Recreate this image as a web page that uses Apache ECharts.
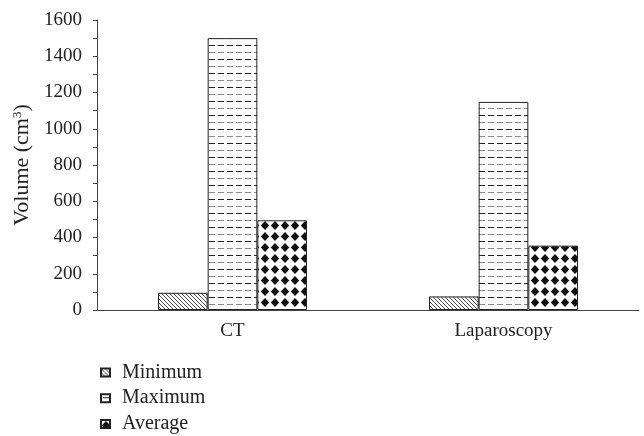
<!DOCTYPE html>
<html>
<head>
<meta charset="utf-8">
<script src="https://cdn.jsdelivr.net/npm/echarts@6/dist/echarts.min.js"></script>
<style>html,body{margin:0;padding:0;background:#fff;}#c{width:644px;height:436px;}</style>
</head>
<body>
<div id="c"></div>
<script>
const categories = ['CT', 'Laparoscopy'];
const seriesNames = ['Minimum', 'Maximum', 'Average'];
const minimumValues = [95, 75];
const maximumValues = [1500, 1148];
const averageValues = [495, 355];
const yTicks = [0, 200, 400, 600, 800, 1000, 1200, 1400, 1600];

function makeCanvas(w, h, draw) {
  const c = document.createElement('canvas');
  c.width = w; c.height = h;
  const ctx = c.getContext('2d');
  ctx.fillStyle = '#fff';
  ctx.fillRect(0, 0, w, h);
  draw(ctx);
  return c;
}
const hatch = makeCanvas(4, 4, ctx => {
  ctx.strokeStyle = '#333'; ctx.lineWidth = 0.9;
  ctx.beginPath();
  ctx.moveTo(-1, -1); ctx.lineTo(5, 5);
  ctx.moveTo(-1, 3); ctx.lineTo(1, 5);
  ctx.moveTo(3, -1); ctx.lineTo(5, 1);
  ctx.stroke();
});
const dashes = makeCanvas(9, 14, ctx => {
  ctx.fillStyle = '#222'; ctx.fillRect(2, 3, 6, 1);
  ctx.fillStyle = '#888'; ctx.fillRect(2, 10, 6, 1);
});
const diamonds = makeCanvas(10, 11, ctx => {
  ctx.fillStyle = '#111';
  ctx.beginPath();
  ctx.moveTo(5, 1); ctx.lineTo(9.2, 5.5); ctx.lineTo(5, 10); ctx.lineTo(0.8, 5.5);
  ctx.closePath(); ctx.fill();
});
const patterns = [hatch, dashes, diamonds];
const dataArrays = [minimumValues, maximumValues, averageValues];

const font = 'Liberation Serif';
const chart = echarts.init(document.getElementById('c'));
chart.setOption({
  animation: false,
  textStyle: { fontFamily: font },
  grid: { left: 97, right: 5, top: 20, bottom: 126, containLabel: false },
  legend: {
    orient: 'vertical', left: 100, top: 362.5, padding: 0,
    itemWidth: 9, itemHeight: 8, itemGap: 5.7,
    icon: 'rect',
    textStyle: { fontFamily: font, fontSize: 20, lineHeight: 20, color: '#222', padding: [0, 0, 0, 7] },
    data: seriesNames
  },
  xAxis: {
    type: 'category', data: categories,
    axisLine: { lineStyle: { color: '#444', width: 1 } },
    axisTick: { alignWithLabel: true, length: 4, lineStyle: { color: '#444' } },
    axisLabel: { fontFamily: font, fontSize: 19, color: '#222', margin: 12 }
  },
  yAxis: {
    type: 'value', min: 0, max: 1600, interval: 100,
    name: 'Volume (cm{sup|3})', nameLocation: 'middle', nameGap: 58,
    nameTextStyle: { fontFamily: font, fontSize: 22, color: '#222',
      rich: { sup: { fontFamily: font, fontSize: 13, verticalAlign: 'top', padding: [0, 0, 9, 0], color: '#222' } } },
    axisLine: { show: true, lineStyle: { color: '#444', width: 1 } },
    axisTick: { show: true, length: 4, lineStyle: { color: '#444' } },
    splitLine: { show: false },
    axisLabel: { fontFamily: font, fontSize: 19, color: '#222', margin: 15,
      formatter: v => yTicks.indexOf(v) >= 0 ? String(v) : '' }
  },
  series: seriesNames.map((n, i) => ({
    name: n, type: 'bar', data: dataArrays[i],
    barGap: '0%', barCategoryGap: '45%',
    itemStyle: { color: { image: patterns[i], repeat: 'repeat' }, borderColor: '#222', borderWidth: 1 }
  }))
});
</script>
</body>
</html>
